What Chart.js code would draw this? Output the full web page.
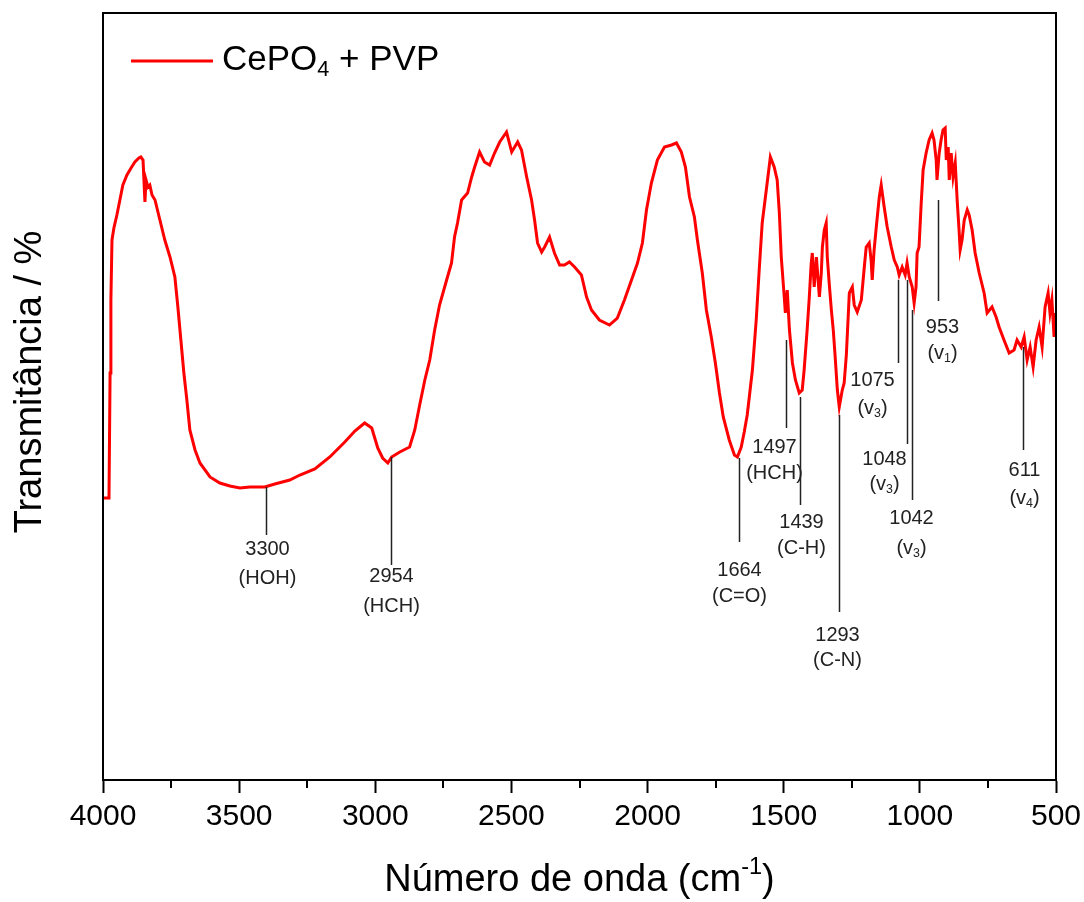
<!DOCTYPE html>
<html>
<head>
<meta charset="utf-8">
<script src="https://cdn.jsdelivr.net/npm/chart.js@4.4.0/dist/chart.umd.min.js"></script>
<style>
html, body { margin: 0; padding: 0; background: #fff; }
</style>
</head>
<body>
<canvas id="ftir" width="1084" height="902"></canvas>
<script>
// FTIR spectrum, CePO4 + PVP
const waveNumbers = [
    3998, 3978, 3974, 3971, 3967, 3960, 3949, 3938, 3927, 3912, 3897, 3883, 3868, 3861, 3853, 3846, 3842, 3835, 3828, 3820,
    3809, 3791, 3773, 3754, 3736, 3725, 3714, 3703, 3692, 3681, 3662, 3644, 3607, 3571, 3534, 3497, 3461, 3406, 3369, 3314,
    3277, 3222, 3167, 3112, 3075, 3039, 3013, 2991, 2973, 2954, 2940, 2910, 2874, 2855, 2837, 2818, 2800, 2782, 2764, 2738,
    2720, 2709, 2698, 2683, 2661, 2646, 2635, 2617, 2599, 2580, 2562, 2543, 2518, 2499, 2477, 2463, 2444, 2426, 2415, 2404,
    2389, 2378, 2360, 2342, 2323, 2305, 2287, 2268, 2243, 2224, 2206, 2177, 2140, 2111, 2085, 2059, 2037, 2019, 2004, 1986,
    1964, 1938, 1912, 1894, 1876, 1861, 1846, 1828, 1817, 1799, 1784, 1766, 1751, 1736, 1722, 1700, 1681, 1670, 1656, 1645,
    1634, 1615, 1601, 1590, 1579, 1564, 1549, 1535, 1524, 1516, 1509, 1498, 1494, 1487, 1479, 1468, 1457, 1443, 1432, 1425,
    1414, 1406, 1399, 1395, 1388, 1380, 1369, 1362, 1358, 1351, 1344, 1340, 1333, 1325, 1318, 1311, 1303, 1296, 1285, 1278,
    1270, 1259, 1248, 1241, 1230, 1215, 1204, 1197, 1186, 1179, 1175, 1168, 1160, 1149, 1142, 1131, 1120, 1105, 1094, 1083,
    1076, 1065, 1054, 1047, 1039, 1028, 1021, 1014, 1010, 1003, 995, 988, 977, 966, 955, 948, 940, 937, 929, 922,
    915, 907, 903, 896, 892, 885, 878, 870, 863, 856, 852, 845, 837, 826, 819, 808, 797, 782, 764, 753,
    735, 720, 709, 691, 672, 654, 643, 628, 617, 606, 595, 584, 573, 562, 551, 540, 529, 522, 515, 507,
    501
];
const transmittance = [
    28.0, 28.0, 40.5, 47.8, 53.8, 55.0, 56.3, 57.8, 59.3, 60.3, 61.0, 61.6, 62.0, 62.1, 61.8, 57.6, 59.8, 59.1, 59.3, 58.3,
    57.8, 55.8, 53.8, 52.1, 50.1, 47.1, 43.8, 40.5, 37.8, 34.8, 32.8, 31.5, 30.1, 29.5, 29.2, 29.0, 29.1, 29.1, 29.4, 29.8,
    30.3, 30.9, 32.1, 33.6, 34.7, 35.5, 35.0, 33.0, 32.0, 31.5, 32.1, 32.6, 33.1, 34.8, 37.3, 39.8, 41.8, 44.8, 47.3, 49.8,
    51.5, 54.1, 55.5, 57.8, 58.5, 60.1, 61.1, 62.6, 61.6, 61.3, 62.5, 63.6, 64.6, 62.6, 63.6, 62.8, 60.1, 57.8, 55.8, 53.5,
    52.6, 53.1, 54.1, 52.5, 51.3, 51.3, 51.6, 51.1, 50.3, 48.1, 46.8, 45.8, 45.3, 46.0, 47.8, 49.8, 51.5, 53.5, 56.8, 59.5,
    61.8, 63.1, 63.3, 63.5, 62.6, 61.1, 58.1, 56.1, 53.8, 50.5, 46.8, 44.1, 41.5, 38.5, 36.1, 33.8, 32.3, 32.1, 33.1, 34.6,
    36.3, 40.8, 45.8, 50.8, 55.5, 58.8, 62.1, 61.1, 59.8, 56.5, 52.1, 48.1, 46.5, 48.8, 44.8, 41.5, 39.8, 38.5, 38.8, 40.8,
    44.8, 48.1, 51.5, 52.5, 49.1, 52.1, 48.1, 50.5, 53.1, 54.8, 55.5, 52.1, 49.5, 46.8, 44.8, 42.1, 38.8, 37.1, 38.8, 39.5,
    42.3, 48.5, 49.1, 47.3, 46.6, 47.8, 51.1, 53.1, 53.5, 51.8, 49.8, 52.8, 55.1, 58.1, 59.3, 57.1, 55.1, 53.1, 51.8, 51.1,
    50.3, 51.1, 50.3, 51.5, 50.1, 49.1, 47.5, 49.1, 52.5, 53.1, 57.5, 60.8, 62.5, 63.8, 64.5, 63.8, 61.8, 59.8, 62.5, 63.8,
    64.8, 65.0, 61.8, 63.1, 59.8, 62.5, 60.1, 61.5, 57.8, 54.8, 52.8, 53.8, 55.8, 56.8, 56.3, 54.8, 52.5, 50.5, 48.5, 46.5,
    47.1, 46.1, 45.1, 43.8, 42.5, 42.8, 43.8, 43.1, 44.1, 41.8, 43.1, 41.1, 43.8, 45.1, 43.1, 47.1, 48.5, 46.5, 47.8, 44.1,
    46.5
];

const minorTicks = [3750, 3250, 2750, 2250, 1750, 1250, 750];

// band assignments: text, where the leader line sits (cm-1) and its top/bottom (transmittance)
const peakLabels = ["3300", "2954", "1664", "1497", "1439", "1293", "1075", "1048", "1042", "953", "611"];
const peakNames = ["(HOH)", "(HCH)", "(C=O)", "(HCH)", "(C-H)", "(C-N)", "(v_{3})", "(v_{3})", "(v_{3})", "(v_{1})", "(v_{4})"];
const peakPositions = [3402, 2943, 1663, 1490, 1439, 1296, 1080, 1047, 1028, 933, 621];
const leaderTop = [29.1, 32.1, 32.0, 43.8, 38.1, 36.3, 49.8, 49.8, 46.8, 57.8, 43.1];
const leaderBottom = [24.3, 21.3, 23.6, 35.0, 27.3, 16.6, 41.5, 33.4, 27.8, 47.7, 32.8];

// text placement relative to the foot of each leader: [dx, dy number, dy name]
const labelOffsets = [
    [1, 14, 43], [0, 11, 41], [0, 28, 54], [-12, 19, 45], [1, 17, 43], [-2, 23, 48],
    [-26, 17, 45], [-23, 15, 40], [-1, 18, 48], [4, 26, 52], [1, 20, 48]
];

const FONT = "'Liberation Sans', Arial, Helvetica, sans-serif";

function parseRich(str) {
    const parts = [];
    let buf = "";
    let i = 0;
    while (i < str.length) {
        const c = str[i];
        if ((c === "_" || c === "^") && str[i + 1] === "{") {
            if (buf) parts.push({ t: buf, k: 0 });
            buf = "";
            const end = str.indexOf("}", i);
            parts.push({ t: str.slice(i + 2, end), k: c === "_" ? 1 : -1 });
            i = end + 1;
        } else {
            buf += c;
            i++;
        }
    }
    if (buf) parts.push({ t: buf, k: 0 });
    return parts;
}

function drawRich(ctx, str, x, y, size, align) {
    const parts = parseRich(str);
    let total = 0;
    parts.forEach(p => {
        p.size = p.k ? size * 0.62 : size;
        ctx.font = p.size + "px " + FONT;
        p.w = ctx.measureText(p.t).width;
        total += p.w;
    });
    let cx = x;
    if (align === "center") cx = x - total / 2;
    if (align === "right") cx = x - total;
    ctx.textAlign = "left";
    ctx.textBaseline = "middle";
    parts.forEach(p => {
        ctx.font = p.size + "px " + FONT;
        const oy = p.k === 1 ? size * 0.3 : p.k === -1 ? -size * 0.36 : 0;
        ctx.fillText(p.t, cx, y + oy);
        cx += p.w;
    });
}

const decorations = {
    id: "decorations",
    afterDraw(chart) {
        const ctx = chart.ctx;
        const area = chart.chartArea;
        const xs = chart.scales.x;
        const ys = chart.scales.y;
        ctx.save();

        // frame
        ctx.strokeStyle = "#000";
        ctx.lineWidth = 2;
        ctx.strokeRect(area.left, area.top, area.right - area.left, area.bottom - area.top);

        // minor ticks
        minorTicks.forEach(v => {
            const px = Math.round(xs.getPixelForValue(v));
            ctx.beginPath();
            ctx.moveTo(px, area.bottom);
            ctx.lineTo(px, area.bottom + 8);
            ctx.stroke();
        });

        // band leaders and labels
        ctx.strokeStyle = "#222";
        ctx.lineWidth = 1.5;
        ctx.fillStyle = "#222";
        peakLabels.forEach((lab, i) => {
            const px = Math.round(xs.getPixelForValue(peakPositions[i])) + 0.5;
            const top = ys.getPixelForValue(leaderTop[i]);
            const bot = ys.getPixelForValue(leaderBottom[i]);
            ctx.beginPath();
            ctx.moveTo(px, top);
            ctx.lineTo(px, bot);
            ctx.stroke();
            const off = labelOffsets[i];
            drawRich(ctx, lab, px + off[0], bot + off[1], 20, "center");
            drawRich(ctx, peakNames[i], px + off[0], bot + off[2], 20, "center");
        });

        // legend
        const ds = chart.data.datasets[0];
        ctx.strokeStyle = ds.borderColor;
        ctx.lineWidth = 3;
        ctx.beginPath();
        ctx.moveTo(131, 61);
        ctx.lineTo(213, 61);
        ctx.stroke();
        ctx.fillStyle = "#000";
        drawRich(ctx, ds.label, 222, 60, 35, "left");

        // axis titles
        drawRich(ctx, "Número de onda (cm^{-1})", (area.left + area.right) / 2, 881, 38, "center");
        ctx.translate(31, 382);
        ctx.rotate(-Math.PI / 2);
        drawRich(ctx, "Transmitância / %", 0, 0, 38, "center");
        ctx.restore();
    }
};

new Chart(document.getElementById("ftir"), {
    type: "line",
    data: {
        datasets: [{
            label: "CePO_{4} + PVP",
            data: waveNumbers.map((w, i) => ({ x: w, y: transmittance[i] })),
            borderColor: "#ff0000",
            borderWidth: 3,
            pointRadius: 0,
            tension: 0,
            fill: false
        }]
    },
    options: {
        responsive: false,
        animation: false,
        layout: { padding: { left: 103, right: 28, top: 13, bottom: 0 } },
        plugins: { legend: { display: false }, tooltip: { enabled: false } },
        scales: {
            x: {
                type: "linear",
                reverse: true,
                min: 500,
                max: 4000,
                afterFit: s => {
                    s.height = 122;
                    s.paddingLeft = 0;
                    s.paddingRight = 0;
                },
                border: { display: true, color: "#000", width: 2 },
                grid: { drawOnChartArea: false, drawTicks: true, tickLength: 13, tickWidth: 2, tickColor: "#000" },
                ticks: {
                    stepSize: 500,
                    padding: 6,
                    color: "#000",
                    font: { family: FONT, size: 30 },
                    maxRotation: 0,
                    callback: v => String(v)
                }
            },
            y: {
                display: false,
                min: -0.2,
                max: 76.5
            }
        }
    },
    plugins: [decorations]
});
</script>
</body>
</html>
